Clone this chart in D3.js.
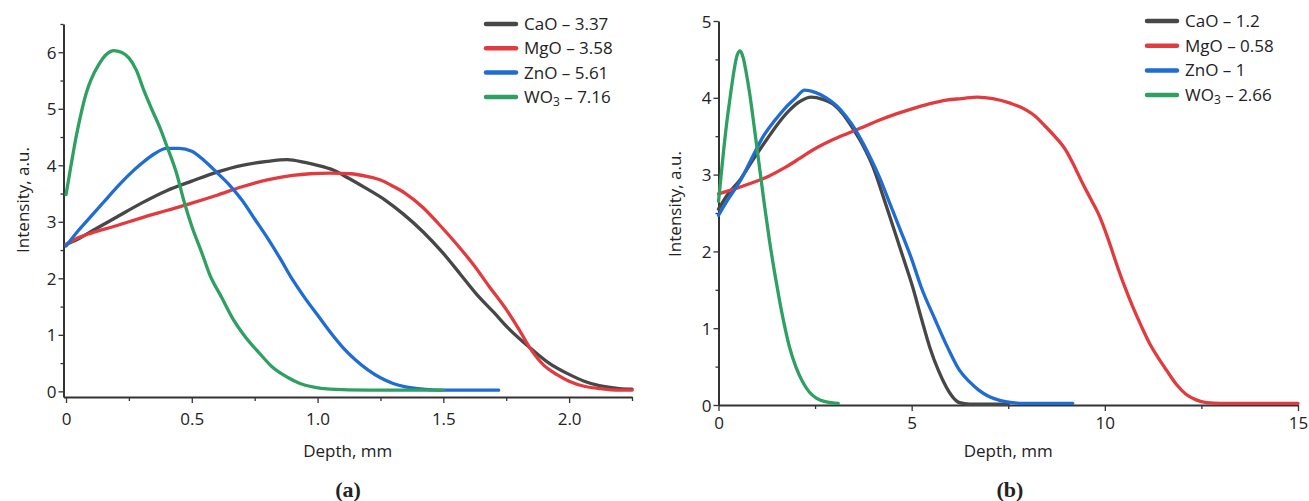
<!DOCTYPE html>
<html>
<head>
<meta charset="utf-8">
<script src="https://cdn.jsdelivr.net/npm/d3@7"></script>
<style>
  html, body { margin: 0; padding: 0; background: #fff; }
  svg { display: block; }
  text { font-family: "Open Sans", sans-serif; fill: #222; }
</style>
</head>
<body>
<svg id="chart" width="1309" height="501"></svg>
<script>
// ---------- DATA ----------
// Panel (a)
const seriesNamesA = ["CaO", "MgO", "ZnO", "WO"];
const legendValuesA = ["3.37", "3.58", "5.61", "7.16"];
const xTicksA = [0, 0.5, 1.0, 1.5, 2.0];
const xTickLabelsA = ["0", "0.5", "1.0", "1.5", "2.0"];
const yTicksA = [0, 1, 2, 3, 4, 5, 6];

const caoA = [[0,2.6],[0.05,2.7],[0.1,2.83],[0.2,3.08],[0.3,3.33],[0.4,3.55],[0.5,3.72],[0.6,3.88],[0.7,4.0],[0.8,4.07],[0.88,4.1],[0.95,4.05],[1.0,4.0],[1.06,3.92],[1.12,3.78],[1.19,3.6],[1.27,3.38],[1.34,3.14],[1.42,2.82],[1.5,2.44],[1.57,2.06],[1.63,1.73],[1.7,1.4],[1.76,1.11],[1.85,0.75],[1.92,0.5],[2.0,0.3],[2.06,0.18],[2.12,0.1],[2.2,0.05],[2.25,0.04]];
const mgoA = [[0,2.6],[0.05,2.72],[0.1,2.8],[0.2,2.93],[0.3,3.07],[0.4,3.2],[0.5,3.33],[0.6,3.47],[0.7,3.62],[0.8,3.74],[0.9,3.82],[0.97,3.85],[1.05,3.86],[1.13,3.85],[1.2,3.8],[1.25,3.74],[1.3,3.63],[1.35,3.5],[1.42,3.25],[1.48,2.97],[1.55,2.62],[1.62,2.24],[1.68,1.87],[1.75,1.45],[1.8,1.1],[1.85,0.73],[1.9,0.46],[1.95,0.3],[2.0,0.18],[2.06,0.09],[2.12,0.05],[2.2,0.02],[2.25,0.02]];
const znoA = [[0,2.57],[0.05,2.85],[0.1,3.1],[0.15,3.35],[0.2,3.6],[0.25,3.83],[0.3,4.03],[0.35,4.2],[0.4,4.3],[0.45,4.3],[0.5,4.25],[0.55,4.08],[0.6,3.87],[0.65,3.65],[0.7,3.38],[0.75,3.05],[0.8,2.72],[0.85,2.36],[0.9,1.98],[0.95,1.65],[1.0,1.35],[1.05,1.05],[1.1,0.78],[1.15,0.56],[1.2,0.38],[1.25,0.24],[1.3,0.14],[1.35,0.08],[1.4,0.05],[1.5,0.02],[1.72,0.02]];
const wo3A = [[0,3.48],[0.02,4.0],[0.04,4.5],[0.06,4.92],[0.08,5.27],[0.1,5.52],[0.13,5.78],[0.16,5.96],[0.19,6.03],[0.22,6.0],[0.25,5.9],[0.28,5.68],[0.31,5.32],[0.34,5.0],[0.37,4.7],[0.4,4.35],[0.44,3.85],[0.47,3.35],[0.5,2.92],[0.54,2.45],[0.57,2.08],[0.62,1.65],[0.66,1.31],[0.71,0.98],[0.77,0.67],[0.82,0.43],[0.88,0.25],[0.93,0.14],[0.98,0.08],[1.05,0.04],[1.2,0.02],[1.5,0.02]];

// Panel (b)
const seriesNamesB = ["CaO", "MgO", "ZnO", "WO"];
const legendValuesB = ["1.2", "0.58", "1", "2.66"];
const xTicksB = [0, 5, 10, 15];
const xTickLabelsB = ["0", "5", "10", "15"];
const yTicksB = [0, 1, 2, 3, 4, 5];

const caoB = [[0,2.55],[0.25,2.75],[0.54,2.92],[0.9,3.2],[1.24,3.45],[1.55,3.67],[1.84,3.84],[2.1,3.95],[2.4,4.01],[2.7,3.98],[2.96,3.92],[3.2,3.8],[3.48,3.6],[3.75,3.37],[4.0,3.1],[4.26,2.72],[4.52,2.32],[4.78,1.92],[5.03,1.53],[5.25,1.13],[5.47,0.75],[5.7,0.44],[5.9,0.23],[6.07,0.1],[6.24,0.03],[6.5,0.01],[7.5,0.01]];
const mgoB = [[0,2.75],[0.4,2.81],[0.8,2.88],[1.3,2.98],[1.75,3.1],[2.1,3.21],[2.44,3.32],[2.9,3.44],[3.31,3.53],[3.75,3.62],[4.17,3.71],[4.6,3.79],[5.03,3.86],[5.45,3.92],[5.9,3.97],[6.3,3.99],[6.7,4.01],[7.1,3.99],[7.55,3.93],[7.97,3.84],[8.2,3.76],[8.4,3.66],[8.7,3.5],[9.0,3.31],[9.22,3.1],[9.43,2.88],[9.65,2.67],[9.87,2.45],[10.1,2.14],[10.3,1.84],[10.5,1.56],[10.73,1.27],[10.95,1.02],[11.17,0.79],[11.4,0.6],[11.6,0.45],[11.85,0.27],[12.1,0.14],[12.35,0.07],[12.63,0.03],[13,0.02],[15,0.02]];
const znoB = [[0,2.47],[0.25,2.68],[0.54,2.9],[0.85,3.2],[1.15,3.49],[1.45,3.7],[1.75,3.88],[2.0,4.0],[2.23,4.1],[2.5,4.07],[2.79,4.0],[3.05,3.9],[3.3,3.76],[3.55,3.58],[3.75,3.4],[3.95,3.2],[4.17,2.96],[4.43,2.63],[4.69,2.3],[5.0,1.9],[5.25,1.53],[5.6,1.12],[5.93,0.75],[6.24,0.45],[6.5,0.3],[6.72,0.2],[7.0,0.11],[7.28,0.06],[7.6,0.03],[7.9,0.02],[9.17,0.02]];
const wo3B = [[0,2.65],[0.07,3.0],[0.14,3.35],[0.2,3.62],[0.3,4.0],[0.4,4.35],[0.48,4.55],[0.56,4.61],[0.64,4.52],[0.72,4.32],[0.8,4.08],[0.93,3.6],[1.06,3.1],[1.19,2.6],[1.32,2.14],[1.45,1.73],[1.58,1.36],[1.71,1.03],[1.84,0.75],[2.0,0.5],[2.18,0.3],[2.35,0.17],[2.53,0.09],[2.8,0.04],[3.1,0.02]];

const colors = ["#474747", "#e23b3f", "#1f6dd3", "#2ea062"];

// ---------- DRAW ----------
const svg = d3.select("#chart");

function panel(cfg) {
  const g = svg.append("g");
  const x = d3.scaleLinear().domain(cfg.xDomain).range(cfg.xRange);
  const y = d3.scaleLinear().domain(cfg.yDomain).range(cfg.yRange);

  // minor ticks
  g.append("g").attr("transform", `translate(0,${cfg.yRange[0]})`)
    .call(d3.axisBottom(x).tickValues(cfg.xMinor).tickSize(4).tickFormat(""))
    .call(a => a.select(".domain").remove());
  g.append("g").attr("transform", `translate(${cfg.xRange[0]},0)`)
    .call(d3.axisLeft(y).tickValues(cfg.yMinor).tickSize(3).tickFormat(""))
    .call(a => a.select(".domain").remove());

  // major axes
  const xa = g.append("g").attr("transform", `translate(0,${cfg.yRange[0]})`)
    .call(d3.axisBottom(x).tickValues(cfg.xTicks).tickSize(6).tickSizeOuter(0)
      .tickFormat((d, i) => cfg.xLabels[i]));
  const ya = g.append("g").attr("transform", `translate(${cfg.xRange[0]},0)`)
    .call(d3.axisLeft(y).tickValues(cfg.yTicks).tickSize(5).tickSizeOuter(0)
      .tickFormat(d3.format("d")));
  [xa, ya].forEach(a => {
    a.selectAll("path.domain").attr("stroke", "#333").attr("stroke-width", 2);
    a.selectAll(".tick text").attr("fill", "#222").style("font-size", "17px")
      .style("font-family", "'Open Sans', sans-serif");
  });
  xa.selectAll(".tick text").attr("y", cfg.xLabelOffset).attr("dy", null);
  ya.selectAll(".tick text").attr("x", -7).attr("dy", "0.36em");
  g.selectAll(".tick line").attr("stroke", "#333").attr("stroke-width", 1.3);

  // lines
  const line = d3.line().x(d => x(d[0])).y(d => y(d[1])).curve(d3.curveMonotoneX);
  cfg.series.forEach((s, i) => {
    g.append("path").datum(s).attr("d", line)
      .attr("fill", "none").attr("stroke", colors[i])
      .attr("stroke-width", 3.3).attr("stroke-linejoin", "round").attr("stroke-linecap", "round");
  });

  // axis titles
  g.append("text").attr("x", (cfg.xRange[0] + cfg.xRange[1]) / 2).attr("y", cfg.xTitleY)
    .attr("text-anchor", "middle").style("font-size", "17px").text("Depth, mm");
  g.append("text").attr("transform", `translate(${cfg.yTitleX},${cfg.yTitleY}) rotate(-90)`)
    .attr("text-anchor", "middle").style("font-size", "17px").text("Intensity, a.u.");

  // legend
  cfg.names.forEach((n, i) => {
    const ly = cfg.legY + i * cfg.legStep;
    g.append("line").attr("x1", cfg.legX).attr("x2", cfg.legX + 30)
      .attr("y1", ly).attr("y2", ly).attr("stroke", colors[i])
      .attr("stroke-width", 4.5).attr("stroke-linecap", "round");
    const t = g.append("text").attr("x", cfg.legX + 38).attr("y", ly + 6).style("font-size", "17px");
    if (n === "WO") {
      t.append("tspan").text("WO");
      t.append("tspan").text("3").style("font-size", "12px").attr("dy", 3);
      t.append("tspan").text(" – " + cfg.values[i]).attr("dy", -3);
    } else {
      t.text(n + " – " + cfg.values[i]);
    }
  });

  // caption
  svg.append("text").attr("x", cfg.capX).attr("y", 497).attr("text-anchor", "middle")
    .style("font-family", "'Liberation Serif', 'DejaVu Serif', serif").style("font-size", "22px")
    .style("font-weight", "bold").text(`(${cfg.cap})`);
}

panel({
  xDomain: [-0.01, 2.25], xRange: [63.5, 632],
  yDomain: [-0.1, 6.5], yRange: [397, 24],
  xTicks: xTicksA, xLabels: xTickLabelsA, yTicks: yTicksA,
  xMinor: [0.25, 0.75, 1.25, 1.75, 2.25], yMinor: d3.range(0.5, 6.6, 1),
  series: [caoA, mgoA, znoA, wo3A],
  names: seriesNamesA, values: legendValuesA,
  legX: 486, legY: 24, legStep: 24.3, xLabelOffset: 28,
  xTitleY: 457, yTitleX: 29, yTitleY: 200, capX: 348, cap: "a"
});

panel({
  xDomain: [0, 15], xRange: [718.5, 1298],
  yDomain: [0, 5], yRange: [405, 21],
  xTicks: xTicksB, xLabels: xTickLabelsB, yTicks: yTicksB,
  xMinor: [2.5, 7.5, 12.5], yMinor: d3.range(0.5, 5, 1),
  series: [caoB, mgoB, znoB, wo3B],
  names: seriesNamesB, values: legendValuesB,
  legX: 1147, legY: 21, legStep: 24.7, xLabelOffset: 24,
  xTitleY: 457, yTitleX: 681, yTitleY: 204, capX: 1010, cap: "b"
});
</script>
</body>
</html>
